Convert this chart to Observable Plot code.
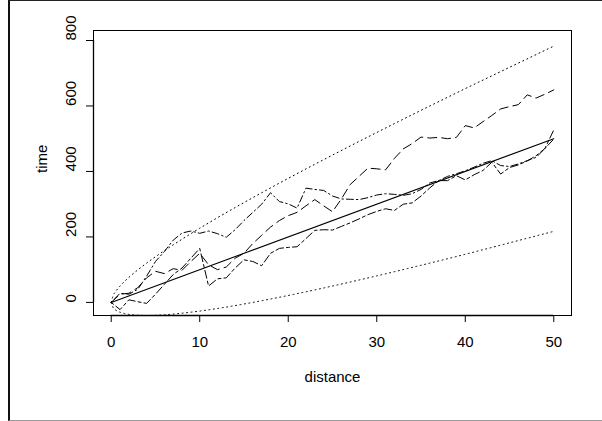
<!DOCTYPE html>
<html>
<head>
<meta charset="utf-8">
<script src="https://cdn.jsdelivr.net/npm/d3@7"></script>
<script src="https://cdn.jsdelivr.net/npm/@observablehq/plot@0.6"></script>
<style>
  html, body { margin: 0; padding: 0; background: #fff; }
  #wrap { position: relative; width: 602px; height: 421px; overflow: hidden; }
  #border { position: absolute; left: 8px; top: 0; width: 594px; height: 421px; box-sizing: border-box;
            border-left: 2px solid #111; border-top: 1px solid #222; border-bottom: 1px solid #9a9a9a; pointer-events: none; }
</style>
</head>
<body>
<div id="wrap"><div id="border"></div></div>
<script>
// x positions of the simulated paths (distance)
const distance = [0,1,2,3,4,5,6,7,8,9,10,11,12,13,14,15,16,17,18,19,20,21,22,23,24,25,26,27,28,29,30,
  31,32,33,34,35,36,37,38,39,40,41,42,43,44,45,46,47,48,49,50];

// path 1 (dashed)
const walkA = [0,25,28,45,75,95,88,103,98,125,150,115,100,108,135,150,180,205,230,250,265,275,295,314,295,277,
  316,360,385,410,408,405,440,469,485,505,502,504,500,504,540,533,552,571,591,598,604,634,624,636,649];
// path 2 (dot-dash, high early)
const walkB = [0,28,25,40,80,125,155,190,212,218,211,218,210,199,222,250,275,300,335,308,301,288,349,345,342,325,
  316,315,314,320,328,332,330,327,332,345,365,372,385,393,402,413,425,433,418,415,423,433,443,470,499];
// path 3 (two-dash, low early)
const walkC = [0,-22,8,2,-3,25,55,85,105,135,165,50,72,75,105,130,125,112,150,165,168,170,195,220,222,221,
  232,243,255,268,278,286,281,300,304,325,350,372,372,387,374,390,403,428,392,412,420,432,448,470,527];

// mean line
const meanDist = [0, 50];
const meanTime = [0, 500];

// dotted envelopes
const bandDist  = [0, 0.25, 0.5, 1, 1.5, 2, 3, 4, 5, 6, 8, 10, 12, 15, 18, 21, 25, 30, 35, 40, 45, 50];
const bandUpper = [0, 22.5, 33.3, 50, 64, 76.6, 99.3, 120, 139.4, 158, 193, 226.5, 258.6, 304.9, 349.7, 393.3, 450, 519, 586.6, 653, 718, 782.8];
const bandLower = [0, -17.5, -23.3, -30, -34, -36.6, -39.3, -40, -39.4, -38, -33, -26.5, -18.6, -4.9, 10.3, 26.7, 50, 81, 113.4, 147, 182, 217];

// axes
const xTicks = [0, 10, 20, 30, 40, 50];
const yTicks = [0, 200, 400, 600, 800];
const xDomain = [-2, 52];
const yDomain = [-40, 830.5];
const xTitle = "distance";
const yTitle = "time";

const rows = (xs, ys) => xs.map((x, i) => ({x, y: ys[i]}));

const chart = Plot.plot({
  width: 602,
  height: 421,
  marginLeft: 93,
  marginRight: 31,
  marginTop: 30,
  marginBottom: 106,
  style: {fontFamily: "'Liberation Sans', Arial, Helvetica, sans-serif", fontSize: "15px", background: "white", color: "black", overflow: "visible"},
  x: {domain: xDomain},
  y: {domain: yDomain},
  marks: [
    Plot.frame({stroke: "black", strokeWidth: 1}),
    Plot.ruleY([yDomain[0]], {x1: xTicks[0], x2: xTicks[xTicks.length - 1], stroke: "black", strokeWidth: 1.5}),
    Plot.ruleX([xDomain[0]], {y1: yTicks[0], y2: yTicks[yTicks.length - 1], stroke: "black", strokeWidth: 1.3}),
    Plot.axisX({ticks: xTicks, tickSize: 7, tickPadding: 14, label: null, fontSize: 15}),
    Plot.axisY({ticks: yTicks, tickSize: 7, tickFormat: () => "", label: null}),
    Plot.text(yTicks, {y: d => d, text: d => String(d), frameAnchor: "left", dx: -22.7, rotate: -90, lineAnchor: "middle", fontSize: 15}),
    Plot.text([yTitle], {text: d => d, frameAnchor: "left", dx: -51.5, rotate: -90, lineAnchor: "middle", fontSize: 15}),
    Plot.text([xTitle], {text: d => d, frameAnchor: "bottom", dy: 62, lineAnchor: "middle", fontSize: 15}),
    Plot.line(rows(bandDist, bandUpper), {x: "x", y: "y", curve: "monotone-x", stroke: "black", strokeWidth: 1, strokeDasharray: "1,3.5", clip: true}),
    Plot.line(rows(bandDist, bandLower), {x: "x", y: "y", curve: "monotone-x", stroke: "black", strokeWidth: 1, strokeDasharray: "1,3.5", clip: true}),
    Plot.line(rows(meanDist, meanTime), {x: "x", y: "y", stroke: "black", strokeWidth: 1.1, clip: true}),
    Plot.line(rows(distance, walkA), {x: "x", y: "y", stroke: "black", strokeWidth: 1, strokeDasharray: "9,5", clip: true}),
    Plot.line(rows(distance, walkB), {x: "x", y: "y", stroke: "black", strokeWidth: 1, strokeDasharray: "1.5,3,7,3", clip: true}),
    Plot.line(rows(distance, walkC), {x: "x", y: "y", stroke: "black", strokeWidth: 1, strokeDasharray: "3,3,8,3", clip: true})
  ]
});

document.getElementById("wrap").insertBefore(chart, document.getElementById("border"));
</script>
</body>
</html>
